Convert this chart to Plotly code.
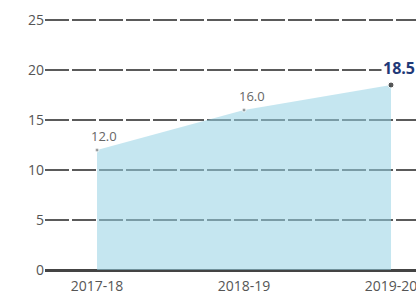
import plotly.graph_objects as go

categories = ["2017-18", "2018-19", "2019-20"]
values = [12.0, 16.0, 18.5]
value_labels = ["12.0", "16.0", "18.5"]
y_ticks = [0, 5, 10, 15, 20, 25]

xs = list(range(len(categories)))

fig = go.Figure()
fig.add_trace(go.Scatter(
    x=xs, y=values, mode="none", fill="tozeroy",
    fillcolor="rgba(150,210,228,0.55)", hoverinfo="skip", showlegend=False,
))
fig.add_trace(go.Scatter(
    x=xs, y=values, mode="markers",
    marker=dict(size=[4, 4, 6], color=["#777777", "#777777", "#111111"]),
    hoverinfo="skip", showlegend=False,
))

label_font = dict(family="Open Sans, sans-serif", size=13, color="#666666")
shifts = [(7, 14), (8, 14), (8, 17)]
for i, (x, v, t) in enumerate(zip(xs, values, value_labels)):
    last = i == len(xs) - 1
    fig.add_annotation(
        x=x, y=v, text=("<b>%s</b>" % t) if last else t, showarrow=False,
        xshift=shifts[i][0], yshift=shifts[i][1],
        font=dict(family="Open Sans, sans-serif", size=16, color="#1f3a78") if last else label_font,
        bgcolor="white" if last else None,
    )

fig.update_layout(
    width=416, height=306,
    margin=dict(l=45, r=0, t=17, b=36),
    paper_bgcolor="white", plot_bgcolor="white",
    xaxis=dict(
        range=[-0.354, 2.17], tickvals=xs, ticktext=categories,
        showgrid=False, zeroline=False, showline=False, ticks="",
        ticklabelstandoff=6, ticklabeloverflow="allow",
        tickfont=dict(family="Open Sans, sans-serif", size=14, color="#555555"),
        automargin=False, fixedrange=True,
    ),
    yaxis=dict(
        range=[0, 25.3], tickvals=y_ticks, showgrid=True,
        gridcolor="#5a5a5a", gridwidth=1.5, griddash="24px,3px",
        zeroline=True, zerolinecolor="#444444", zerolinewidth=2.5,
        showline=False, ticks="",
        tickfont=dict(family="Open Sans, sans-serif", size=14, color="#555555"),
        automargin=False, fixedrange=True,
    ),
)

fig.write_html("out.html", post_script="document.body.style.margin='0';",
               config={"displayModeBar": False})
